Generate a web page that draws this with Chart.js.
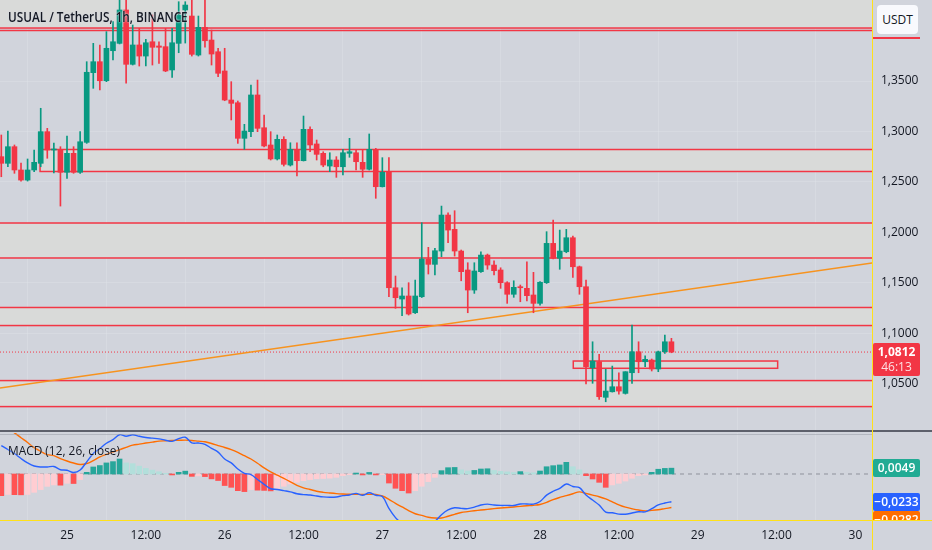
<!DOCTYPE html>
<html><head><meta charset="utf-8">
<script src="https://cdn.jsdelivr.net/npm/chart.js@4.4.0/dist/chart.umd.min.js"></script>
<style>
html,body{margin:0;padding:0;background:#d1d4dc;width:932px;height:550px;overflow:hidden;font-family:"Open Sans","DejaVu Sans",sans-serif;}
#wrap{position:relative;width:932px;height:550px;background:#d1d4dc;}
canvas{position:absolute;left:0;}
#c1{top:0;width:932px;height:432px;}
#c2{top:432px;width:932px;height:118px;}
.title{position:absolute;left:8px;top:7px;font-size:14px;font-weight:600;color:#131722;text-shadow:0 0 2px #d1d4dc,0 0 2px #d1d4dc;white-space:nowrap;transform:scaleX(0.84);transform-origin:0 0;}
.macdt{position:absolute;left:8px;top:442px;font-size:12.5px;color:#131722;white-space:nowrap;text-shadow:0 0 2px #d1d4dc;transform:scaleX(0.95);transform-origin:0 0;}
#usdt{position:absolute;left:877px;top:5px;width:41px;height:29px;background:#f8f9fd;border-radius:4px;font-size:12px;color:#131722;line-height:29px;text-align:center;}
#usdtline{position:absolute;left:873px;top:37px;width:47px;height:2px;background:#f23645;}
#pricebox{position:absolute;left:873px;width:47px;height:33px;background:#f23645;border-radius:2px;color:#fff;font-size:12px;text-align:center;line-height:15px;padding-top:1px;box-sizing:border-box;}
#pv{font-weight:700;}
#cd{color:rgba(255,255,255,0.85);}
#macdlabels{position:absolute;left:873px;top:432px;width:59px;height:88px;overflow:hidden;}
.ml{position:absolute;left:0;width:47px;height:18px;line-height:18px;font-size:12px;color:#fff;text-align:center;border-radius:2px;font-weight:600;}
#sep{position:absolute;left:0;top:430px;width:932px;height:2px;background:#5d606b;}
#sep2{position:absolute;left:0;top:434px;width:872px;height:1px;background:rgba(150,153,163,0.5);}
#vy{position:absolute;left:872px;top:0;width:1px;height:550px;background:#ffe11a;}
#hy{position:absolute;left:0;top:520px;width:932px;height:1px;background:#ffe11a;}
</style></head>
<body><div id="wrap">
<canvas id="c1" width="932" height="432"></canvas>
<canvas id="c2" width="932" height="118"></canvas>
<div class="title">USUAL / TetherUS, 1h, BINANCE</div>
<div class="macdt">MACD (12, 26, close)</div>
<div id="sep"></div><div id="sep2"></div>
<div id="vy"></div><div id="hy"></div>
<div id="usdt">USDT</div><div id="usdtline"></div>
<div id="pricebox"><div id="pv"></div><div id="cd">46:13</div></div>
<div id="macdlabels"><div class="ml" id="lh"></div><div class="ml" id="lm"></div><div class="ml" id="ls"></div></div>
</div>
<script>
// ---------- DATA ----------
const firstHour = -10; // hours relative to 25 00:00 (first candle 24 14:00)
const open = [1.2750,1.2684,1.2849,1.2618,1.2518,1.2618,1.2684,1.2998,1.2816,1.2823,
1.2595,1.2783,1.2595,1.2892,1.3583,1.3692,1.3503,1.3801,1.3874,1.4205,
1.3666,1.3858,1.3748,1.3890,1.3848,1.3841,1.3610,1.3874,1.4205,1.4145,
1.3758,1.4033,1.3907,1.3791,1.3600,1.3312,1.3285,1.2932,1.2998,1.3362,
1.3037,1.2866,1.2727,1.2922,1.2667,1.2823,1.2710,1.3021,1.2876,1.2783,
1.2657,1.2717,1.2650,1.2783,1.2789,1.2694,1.2625,1.2823,1.2452,1.2595,
1.1450,1.1338,1.1368,1.1202,1.1361,1.1735,1.1682,1.1814,1.2171,1.2029,
1.1814,1.1626,1.1427,1.1609,1.1774,1.1675,1.1626,1.1500,1.1385,1.1460,
1.1444,1.1378,1.1295,1.1500,1.1890,1.1742,1.1807,1.1946,1.1658,1.1460,
1.0656,1.0716,1.0363,1.0418,1.0468,1.0402,1.0607,1.0815,1.0716,1.0733,
1.0644,1.0815,1.0914];
const high = [1.2965,1.3004,1.2866,1.2687,1.2727,1.2816,1.3230,1.3031,1.2885,1.2849,
1.2955,1.2849,1.2998,1.3692,1.3874,1.3858,1.3990,1.4089,1.4354,1.4334,
1.4056,1.4023,1.3914,1.4155,1.3890,1.4023,1.4023,1.4287,1.4287,1.4354,
1.4145,1.4334,1.4006,1.3825,1.3825,1.3494,1.3302,1.3071,1.3461,1.3510,
1.3163,1.2998,1.2965,1.2948,1.2888,1.2888,1.3153,1.3047,1.2915,1.2799,
1.2789,1.2750,1.2823,1.2932,1.2823,1.2823,1.2975,1.2833,1.2740,1.2740,
1.1566,1.1450,1.1500,1.1526,1.2095,1.1851,1.1841,1.2260,1.2194,1.2214,
1.1824,1.1698,1.1698,1.1807,1.1784,1.1718,1.1648,1.1510,1.1519,1.1477,
1.1708,1.1603,1.1510,1.2006,1.2122,1.2022,1.2029,1.1963,1.1665,1.1526,
1.0914,1.0789,1.0641,1.0673,1.0607,1.0617,1.1080,1.0914,1.0775,1.0743,
1.0822,1.0981,1.0948];
const low = [1.2551,1.2650,1.2585,1.2508,1.2508,1.2601,1.2650,1.2734,1.2588,1.2260,
1.2535,1.2585,1.2585,1.2882,1.3428,1.3411,1.3494,1.3709,1.3868,1.3478,
1.3659,1.3649,1.3649,1.3659,1.3676,1.3593,1.3537,1.3781,1.3877,1.3748,
1.3748,1.3835,1.3659,1.3543,1.3305,1.3114,1.2882,1.2823,1.2948,1.2998,
1.2846,1.2717,1.2717,1.2657,1.2657,1.2558,1.2707,1.2799,1.2717,1.2650,
1.2601,1.2545,1.2568,1.2744,1.2618,1.2545,1.2618,1.2337,1.2449,1.1361,
1.1246,1.1172,1.1179,1.1194,1.1353,1.1586,1.1576,1.1758,1.1896,1.1764,
1.1519,1.1202,1.1394,1.1603,1.1633,1.1576,1.1444,1.1295,1.1355,1.1311,
1.1318,1.1202,1.1278,1.1492,1.1735,1.1633,1.1797,1.1553,1.1385,1.0495,
1.0502,1.0343,1.0319,1.0415,1.0393,1.0395,1.0502,1.0607,1.0666,1.0624,
1.0617,1.0799,1.0805];
const close = [1.2684,1.2849,1.2618,1.2518,1.2618,1.2694,1.2998,1.2816,1.2826,1.2595,
1.2783,1.2595,1.2898,1.3587,1.3692,1.3503,1.3825,1.3890,1.4205,1.3666,
1.3858,1.3748,1.3880,1.3835,1.3835,1.3600,1.3880,1.4155,1.4254,1.3765,
1.4033,1.3900,1.3768,1.3577,1.3312,1.3279,1.2932,1.3004,1.3362,1.3031,
1.2856,1.2727,1.2922,1.2674,1.2823,1.2710,1.3021,1.2866,1.2773,1.2667,
1.2717,1.2650,1.2789,1.2799,1.2700,1.2625,1.2823,1.2452,1.2595,1.1450,
1.1351,1.1368,1.1189,1.1368,1.1735,1.1682,1.1817,1.2171,1.2022,1.1814,
1.1609,1.1427,1.1616,1.1774,1.1675,1.1619,1.1500,1.1385,1.1454,1.1450,
1.1371,1.1295,1.1504,1.1890,1.1742,1.1814,1.1946,1.1658,1.1460,1.0666,
1.0723,1.0369,1.0425,1.0468,1.0425,1.0617,1.0815,1.0716,1.0740,1.0644,
1.0815,1.0914,1.0812];
const histogram = [-0.0182,-0.0172,-0.0174,-0.0175,-0.0172,-0.0154,-0.0131,-0.0104,-0.0092,-0.0094,
-0.0078,-0.0080,-0.0047,0.0014,0.0059,0.0071,0.0093,0.0104,0.0126,0.0093,
0.0087,0.0066,0.0047,0.0033,0.0019,0.0005,-0.0008,0.0014,0.0024,-0.0020,
-0.0016,-0.0022,-0.0041,-0.0055,-0.0097,-0.0112,-0.0140,-0.0148,-0.0131,-0.0136,
-0.0138,-0.0142,-0.0120,-0.0103,-0.0084,-0.0070,-0.0056,-0.0047,-0.0040,-0.0038,
-0.0035,-0.0028,-0.0014,-0.0006,0.0008,-0.0008,0.0013,-0.0008,-0.0005,-0.0076,
-0.0120,-0.0140,-0.0160,-0.0140,-0.0103,-0.0064,-0.0028,0.0028,0.0053,0.0055,
0.0035,0.0025,0.0030,0.0042,0.0044,0.0030,0.0022,0.0018,0.0012,0.0020,
0.0015,0.0010,0.0025,0.0061,0.0070,0.0076,0.0098,0.0061,0.0035,-0.0014,
-0.0042,-0.0070,-0.0112,-0.0092,-0.0078,-0.0059,-0.0036,-0.0014,-0.0008,0.0014,
0.0040,0.0047,0.0049];
const macdLine = [0.0238,0.0206,0.0172,0.0130,0.0093,0.0067,0.0059,0.0059,0.0063,0.0036,
0.0031,0.0012,0.0033,0.0102,0.0172,0.0214,0.0258,0.0289,0.0330,0.0317,
0.0330,0.0317,0.0307,0.0301,0.0295,0.0284,0.0274,0.0297,0.0309,0.0262,
0.0260,0.0249,0.0215,0.0184,0.0126,0.0093,0.0042,0.0006,-0.0005,-0.0046,
-0.0087,-0.0124,-0.0130,-0.0140,-0.0150,-0.0166,-0.0173,-0.0177,-0.0185,-0.0192,
-0.0195,-0.0193,-0.0182,-0.0176,-0.0163,-0.0179,-0.0158,-0.0179,-0.0190,-0.0289,
-0.0367,-0.0417,-0.0468,-0.0474,-0.0451,-0.0427,-0.0398,-0.0342,-0.0302,-0.0284,
-0.0289,-0.0291,-0.0279,-0.0261,-0.0253,-0.0261,-0.0264,-0.0264,-0.0265,-0.0252,
-0.0252,-0.0253,-0.0231,-0.0178,-0.0145,-0.0121,-0.0084,-0.0105,-0.0115,-0.0177,
-0.0219,-0.0261,-0.0321,-0.0326,-0.0337,-0.0338,-0.0328,-0.0317,-0.0318,-0.0292,
-0.0260,-0.0244,-0.0233];
const signalLine = [0.0420,0.0378,0.0346,0.0305,0.0265,0.0221,0.0190,0.0163,0.0155,0.0130,
0.0109,0.0092,0.0080,0.0088,0.0113,0.0143,0.0165,0.0185,0.0204,0.0224,
0.0243,0.0251,0.0260,0.0268,0.0276,0.0279,0.0282,0.0283,0.0285,0.0282,
0.0276,0.0271,0.0256,0.0239,0.0223,0.0205,0.0182,0.0154,0.0126,0.0090,
0.0051,0.0018,-0.0010,-0.0037,-0.0066,-0.0096,-0.0117,-0.0130,-0.0145,-0.0154,
-0.0160,-0.0165,-0.0168,-0.0170,-0.0171,-0.0171,-0.0171,-0.0171,-0.0185,-0.0213,
-0.0247,-0.0277,-0.0308,-0.0334,-0.0348,-0.0363,-0.0370,-0.0370,-0.0355,-0.0339,
-0.0324,-0.0316,-0.0309,-0.0303,-0.0297,-0.0291,-0.0286,-0.0282,-0.0277,-0.0272,
-0.0267,-0.0263,-0.0256,-0.0239,-0.0215,-0.0197,-0.0182,-0.0166,-0.0150,-0.0163,
-0.0177,-0.0191,-0.0209,-0.0234,-0.0259,-0.0279,-0.0292,-0.0303,-0.0310,-0.0306,
-0.0300,-0.0291,-0.0282];
const timeTicks = [0,12,24,36,48,60,72,84,96,108,120];
const timeLabels = ['25','12:00','26','12:00','27','12:00','28','12:00','29','12:00','30'];
const priceTicks = [1.05,1.10,1.15,1.20,1.25,1.30,1.35];
// support / resistance zones
const zoneTop    = [1.4500,1.2821,1.2092,1.1254,1.0529,1.0723];
const zoneBottom = [1.4026,1.2603,1.1745,1.1075,1.0271,1.0651];
const zoneStart  = [-15,-4.1,-15,-15,-15,77.06];
const zoneEnd    = [140,140,140,140,140,108.17];
const extraLines = [1.4001];
const trendX = [-10.2,122.6];
const trendY = [1.0455,1.1695];
const countdown = '46:13';
// ---------- END DATA ----------

const hours = close.map((_, i) => firstHour + i);
const xMin = -10.198, xMax = 122.53;
const UP = '#089981', DOWN = '#f23645';
const fmt = v => (v < 0 ? '\u2212' : '') + Math.abs(v).toFixed(4).replace('.', ',');
Chart.defaults.font.family = "'Open Sans', 'DejaVu Sans', sans-serif";
Chart.defaults.color = '#131722';
const gridCol = 'rgba(225,228,236,0.35)';
const candleCol = i => close[i] >= open[i] ? UP : DOWN;
const noPad = s => { s.paddingTop = 0; s.paddingBottom = 0; s.paddingLeft = 0; s.paddingRight = 0; };

const zonePlugin = {
  id: 'zones',
  beforeDatasetsDraw(chart) {
    const { ctx, chartArea: a, scales: { x, y } } = chart;
    ctx.save();
    ctx.beginPath(); ctx.rect(a.left, a.top, a.right - a.left, a.bottom - a.top); ctx.clip();
    zoneTop.forEach((t, k) => {
      const x0 = x.getPixelForValue(zoneStart[k]), x1 = x.getPixelForValue(zoneEnd[k]);
      const y0 = y.getPixelForValue(t), y1 = y.getPixelForValue(zoneBottom[k]);
      ctx.fillStyle = '#d9dad9';
      ctx.fillRect(x0, y0, x1 - x0, y1 - y0);
      ctx.strokeStyle = '#f23645'; ctx.lineWidth = 1.5;
      ctx.strokeRect(x0, y0, x1 - x0, y1 - y0);
    });
    extraLines.forEach(v => {
      const yy = y.getPixelForValue(v);
      ctx.strokeStyle = '#f23645'; ctx.lineWidth = 1.5;
      ctx.beginPath(); ctx.moveTo(a.left, yy); ctx.lineTo(a.right, yy); ctx.stroke();
    });
    const yp = y.getPixelForValue(close[close.length - 1]);
    ctx.strokeStyle = '#f23645'; ctx.lineWidth = 1; ctx.setLineDash([1, 2]);
    ctx.beginPath(); ctx.moveTo(a.left, yp); ctx.lineTo(a.right, yp); ctx.stroke();
    ctx.restore();
  }
};

const c1 = new Chart(document.getElementById('c1'), {
  type: 'bar',
  data: {
    datasets: [
      { type: 'line', label: 'trend', data: trendX.map((x, i) => ({ x, y: trendY[i] })),
        borderColor: '#f7931e', borderWidth: 1.5, pointRadius: 0, order: 3 },
      { label: 'wick', data: hours.map((h, i) => ({ x: h, y: [low[i], high[i]] })),
        backgroundColor: c => candleCol(c.dataIndex), barThickness: 1, grouped: false, order: 2 },
      { label: 'body', data: hours.map((h, i) => ({ x: h, y: [open[i], close[i]] })),
        backgroundColor: c => candleCol(c.dataIndex), barThickness: 5, minBarLength: 1, grouped: false, order: 1 }
    ]
  },
  options: {
    responsive: false, animation: false, devicePixelRatio: 1,
    layout: { padding: 0 },
    plugins: { legend: { display: false }, tooltip: { enabled: false } },
    scales: {
      x: { type: 'linear', min: xMin, max: xMax, offset: false,
        afterBuildTicks: s => { s.ticks = timeTicks.map(v => ({ value: v })); },
        afterFit: s => { s.height = 0; noPad(s); },
        ticks: { display: false }, grid: { color: gridCol, drawTicks: false }, border: { display: false } },
      y: { position: 'right', min: 1.0019, max: 1.4304,
        afterBuildTicks: s => { s.ticks = priceTicks.map(v => ({ value: v })); },
        afterFit: s => { s.width = 60; noPad(s); },
        ticks: { callback: v => fmt(v), padding: 9, font: { size: 12 }, color: '#131722' },
        grid: { color: gridCol, drawTicks: false }, border: { display: false } }
    }
  },
  plugins: [zonePlugin]
});

const histColor = i => {
  const v = histogram[i], rising = i > 0 && histogram[i - 1] < v;
  if (v >= 0) return rising ? '#26a69a' : '#b2dfdb';
  return rising ? '#ffcdd2' : '#ff5252';
};

const c2 = new Chart(document.getElementById('c2'), {
  type: 'bar',
  data: {
    datasets: [
      { type: 'line', label: 'MACD', data: hours.map((h, i) => ({ x: h, y: macdLine[i] })),
        borderColor: '#2962ff', borderWidth: 1.4, pointRadius: 0, tension: 0.35, order: 1 },
      { type: 'line', label: 'Signal', data: hours.map((h, i) => ({ x: h, y: signalLine[i] })),
        borderColor: '#ff6d00', borderWidth: 1.4, pointRadius: 0, tension: 0.35, order: 2 },
      { type: 'line', label: 'zero', data: [{ x: xMin, y: 0 }, { x: xMax, y: 0 }],
        borderColor: 'rgba(120,123,134,0.75)', borderWidth: 1, borderDash: [4, 4], pointRadius: 0, order: 4 },
      { label: 'Histogram', data: hours.map((h, i) => ({ x: h, y: histogram[i] })),
        backgroundColor: c => histColor(c.dataIndex), barThickness: 5, grouped: false, order: 3 }
    ]
  },
  options: {
    responsive: false, animation: false, devicePixelRatio: 1,
    layout: { padding: { top: 1 } },
    plugins: { legend: { display: false }, tooltip: { enabled: false } },
    scales: {
      x: { type: 'linear', min: xMin, max: xMax, offset: false,
        afterBuildTicks: s => { s.ticks = timeTicks.map(v => ({ value: v })); },
        afterFit: s => { s.height = 30; noPad(s); },
        ticks: { callback: (v) => timeLabels[timeTicks.indexOf(v)], padding: 8, maxRotation: 0, font: { size: 12 }, color: '#131722' },
        grid: { color: gridCol, drawTicks: false }, border: { display: false } },
      y: { position: 'right', min: -0.03866, max: 0.03445,
        afterFit: s => { s.width = 60; noPad(s); },
        ticks: { display: false }, grid: { display: false }, border: { display: false } }
    }
  }
});

// overlay labels positioned through the scales
const last = close.length - 1;
const pb = document.getElementById('pricebox');
document.getElementById('pv').textContent = fmt(close[last]);
document.getElementById('cd').textContent = countdown;
pb.style.top = (c1.scales.y.getPixelForValue(close[last]) - 9.5) + 'px';
const ys = c2.scales.y;
const hY = ys.getPixelForValue(histogram[last]) - 9;
const mY = ys.getPixelForValue(macdLine[last]) - 9;
const sY = Math.max(ys.getPixelForValue(signalLine[last]) - 9, mY + 18);
const lh = document.getElementById('lh'), lm = document.getElementById('lm'), ls = document.getElementById('ls');
lh.textContent = fmt(histogram[last]); lh.style.top = hY + 'px'; lh.style.background = '#22ab94';
lm.textContent = fmt(macdLine[last]); lm.style.top = mY + 'px'; lm.style.background = '#2962ff';
ls.textContent = fmt(signalLine[last]); ls.style.top = sY + 'px'; ls.style.background = '#ff6d00';
</script>
</body></html>
